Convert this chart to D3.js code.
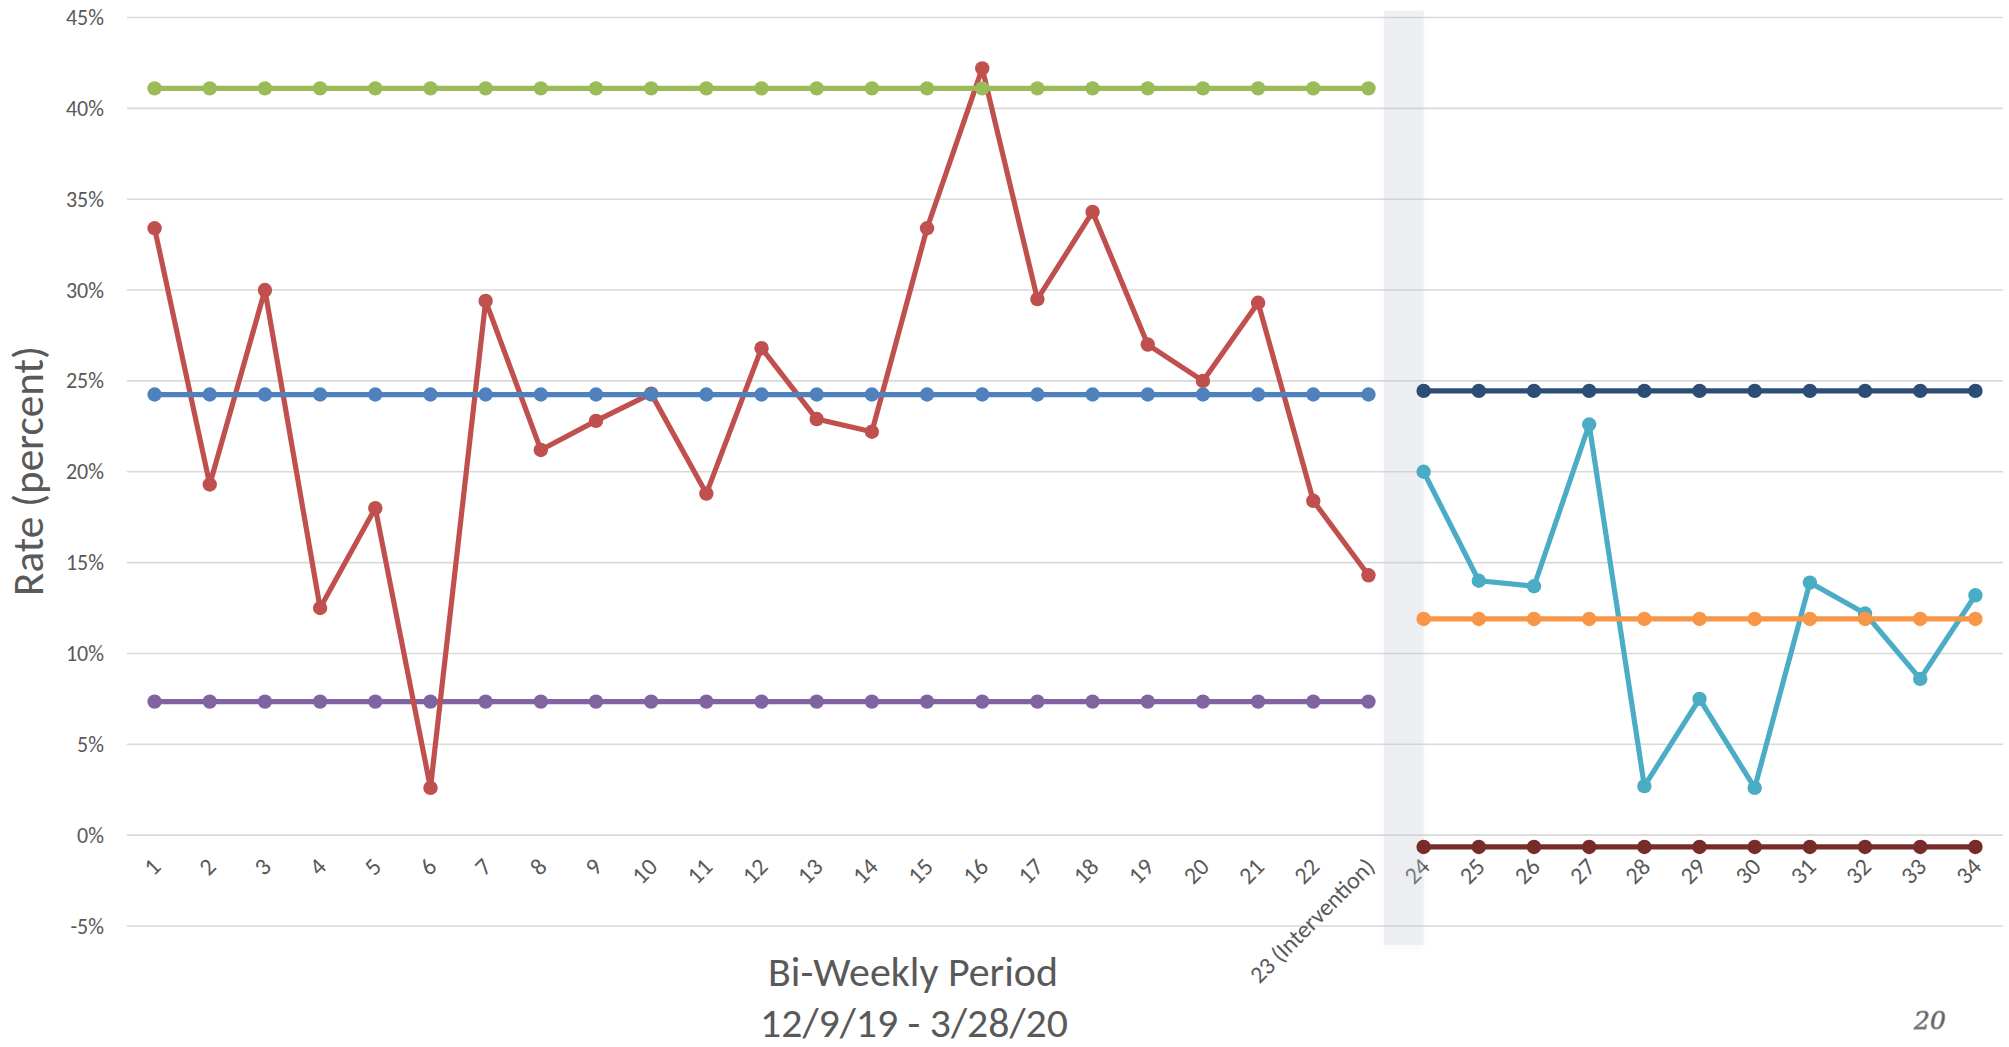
<!DOCTYPE html>
<html>
<head>
<meta charset="utf-8">
<script src="https://cdn.jsdelivr.net/npm/d3@7"></script>
<style>
  html, body { margin: 0; padding: 0; background: #ffffff; }
  svg { display: block; }
  text { font-family: Carlito, Calibri, Lato, "Open Sans", sans-serif; fill: #595959; }
</style>
</head>
<body>
<svg id="chart" width="2009" height="1047"></svg>
<script>
// Bi-weekly periods (period 23 marks the intervention)
const periods = ["1","2","3","4","5","6","7","8","9","10","11","12","13","14","15","16","17","18","19","20","21","22","23 (Intervention)","24","25","26","27","28","29","30","31","32","33","34"];
const prePeriods = periods.slice(0, 23);
const postPeriods = periods.slice(23);

// Pre-intervention: observed rate and control limits (percent)
const preRate  = [33.4, 19.3, 30.0, 12.5, 18.0, 2.6, 29.4, 21.2, 22.8, 24.3, 18.8, 26.8, 22.9, 22.2, 33.4, 42.2, 29.5, 34.3, 27.0, 25.0, 29.3, 18.4, 14.3];
const preUpper = [41.1, 41.1, 41.1, 41.1, 41.1, 41.1, 41.1, 41.1, 41.1, 41.1, 41.1, 41.1, 41.1, 41.1, 41.1, 41.1, 41.1, 41.1, 41.1, 41.1, 41.1, 41.1, 41.1];
const preMean  = [24.25, 24.25, 24.25, 24.25, 24.25, 24.25, 24.25, 24.25, 24.25, 24.25, 24.25, 24.25, 24.25, 24.25, 24.25, 24.25, 24.25, 24.25, 24.25, 24.25, 24.25, 24.25, 24.25];
const preLower = [7.35, 7.35, 7.35, 7.35, 7.35, 7.35, 7.35, 7.35, 7.35, 7.35, 7.35, 7.35, 7.35, 7.35, 7.35, 7.35, 7.35, 7.35, 7.35, 7.35, 7.35, 7.35, 7.35];

// Post-intervention: observed rate and control limits (percent)
const postRate  = [20.0, 14.0, 13.7, 22.6, 2.7, 7.5, 2.6, 13.9, 12.2, 8.6, 13.2];
const postUpper = [24.45, 24.45, 24.45, 24.45, 24.45, 24.45, 24.45, 24.45, 24.45, 24.45, 24.45];
const postMean  = [11.9, 11.9, 11.9, 11.9, 11.9, 11.9, 11.9, 11.9, 11.9, 11.9, 11.9];
const postLower = [-0.65, -0.65, -0.65, -0.65, -0.65, -0.65, -0.65, -0.65, -0.65, -0.65, -0.65];

const yTicks = [-5, 0, 5, 10, 15, 20, 25, 30, 35, 40, 45];

const svg = d3.select("#chart");

const x = d3.scalePoint().domain(periods).range([127, 2003]).padding(0.5);
const y = d3.scaleLinear().domain([-5, 45]).range([926, 17.5]);
const step = x.step();

// Horizontal gridlines
svg.append("g").selectAll("line").data(yTicks).join("line")
  .attr("x1", 127).attr("x2", 2003)
  .attr("y1", d => y(d)).attr("y2", d => y(d))
  .attr("stroke", "#d9d9d9").attr("stroke-width", 1.6);

// Y axis (labels only)
const yAxis = svg.append("g").attr("transform", "translate(104,0)")
  .call(d3.axisLeft(y).tickValues(yTicks).tickSize(0).tickPadding(0).tickFormat(d => d + "%"));
yAxis.select(".domain").remove();
yAxis.selectAll("text").attr("font-size", 22).attr("fill", "#595959")
  .style("font-family", "Carlito, Calibri, Lato, sans-serif");

// X axis (rotated labels only)
const xAxis = svg.append("g").attr("transform", `translate(0,${y(0)})`)
  .call(d3.axisBottom(x).tickSize(0).tickPadding(0));
xAxis.select(".domain").remove();
xAxis.selectAll("text")
  .attr("font-size", 24).attr("fill", "#595959")
  .attr("text-anchor", "end")
  .attr("x", 0).attr("y", 0)
  .attr("transform", "translate(-5,21) rotate(-45)")
  .attr("dy", "0.71em")
  .style("font-family", "Carlito, Calibri, Lato, sans-serif");

// Intervention band
const defs = svg.append("defs");
const shadow = defs.append("filter").attr("id", "bandShadow")
  .attr("x", "-50%").attr("y", "-5%").attr("width", "200%").attr("height", "110%");
shadow.append("feDropShadow").attr("dx", 0).attr("dy", 5).attr("stdDeviation", 3)
  .attr("flood-color", "#000").attr("flood-opacity", 0.07);
const bandX0 = x("23 (Intervention)") + 0.28 * step;
const bandX1 = x("24");
svg.append("rect")
  .attr("x", bandX0).attr("y", y(45) - 7)
  .attr("width", bandX1 - bandX0).attr("height", y(-5) - y(45) + 26)
  .attr("fill", "#c5c9d8").attr("fill-opacity", 0.28)
  .attr("filter", "url(#bandShadow)");

// Series lines with markers
const line = d3.line().x(d => x(d.p)).y(d => y(d.v));
function drawSeries(cats, vals, color, r) {
  const pts = cats.map((p, i) => ({ p, v: vals[i] }));
  const g = svg.append("g");
  g.append("path").datum(pts).attr("d", line)
    .attr("fill", "none").attr("stroke", color).attr("stroke-width", 5.2)
    .attr("stroke-linejoin", "round");
  g.selectAll("circle").data(pts).join("circle")
    .attr("cx", d => x(d.p)).attr("cy", d => y(d.v)).attr("r", r)
    .attr("fill", color);
}

drawSeries(prePeriods, preLower, "#8064A2", 7.2);
drawSeries(prePeriods, preRate,  "#C0504D", 7.2);
drawSeries(prePeriods, preMean,  "#4F81BD", 7.2);
drawSeries(prePeriods, preUpper, "#9BBB59", 7.2);

drawSeries(postPeriods, postRate,  "#4BACC6", 7.2);
drawSeries(postPeriods, postMean,  "#F79646", 7.2);
drawSeries(postPeriods, postUpper, "#2C4D75", 7.2);
drawSeries(postPeriods, postLower, "#772C2A", 7.2);

// Fit a text element to a target width by scaling its font size
function fitText(sel, width) {
  const w = sel.node().getComputedTextLength();
  const fs = parseFloat(sel.attr("font-size"));
  sel.attr("font-size", fs * width / w);
}

// Axis titles
const yTitle = svg.append("text")
  .attr("transform", "translate(43,471) rotate(-90)")
  .attr("text-anchor", "middle")
  .attr("font-size", 40).attr("fill", "#595959")
  .text("Rate (percent)");
fitText(yTitle, 250);

const xTitle1 = svg.append("text")
  .attr("x", 913).attr("y", 986).attr("text-anchor", "middle")
  .attr("font-size", 38).attr("fill", "#595959")
  .text("Bi-Weekly Period");
fitText(xTitle1, 290);

const xTitle2 = svg.append("text")
  .attr("x", 914).attr("y", 1037).attr("text-anchor", "middle")
  .attr("font-size", 38).attr("fill", "#595959")
  .text("12/9/19 - 3/28/20");
fitText(xTitle2, 308);

// Slide number
svg.append("text")
  .attr("x", 1930).attr("y", 1029).attr("text-anchor", "middle")
  .attr("font-size", 25).attr("font-style", "italic")
  .style("font-family", "'DejaVu Serif', serif")
  .attr("fill", "#eeeeee").attr("stroke", "#8c8c8c").attr("stroke-width", 0.8)
  .text("20");
</script>
</body>
</html>
